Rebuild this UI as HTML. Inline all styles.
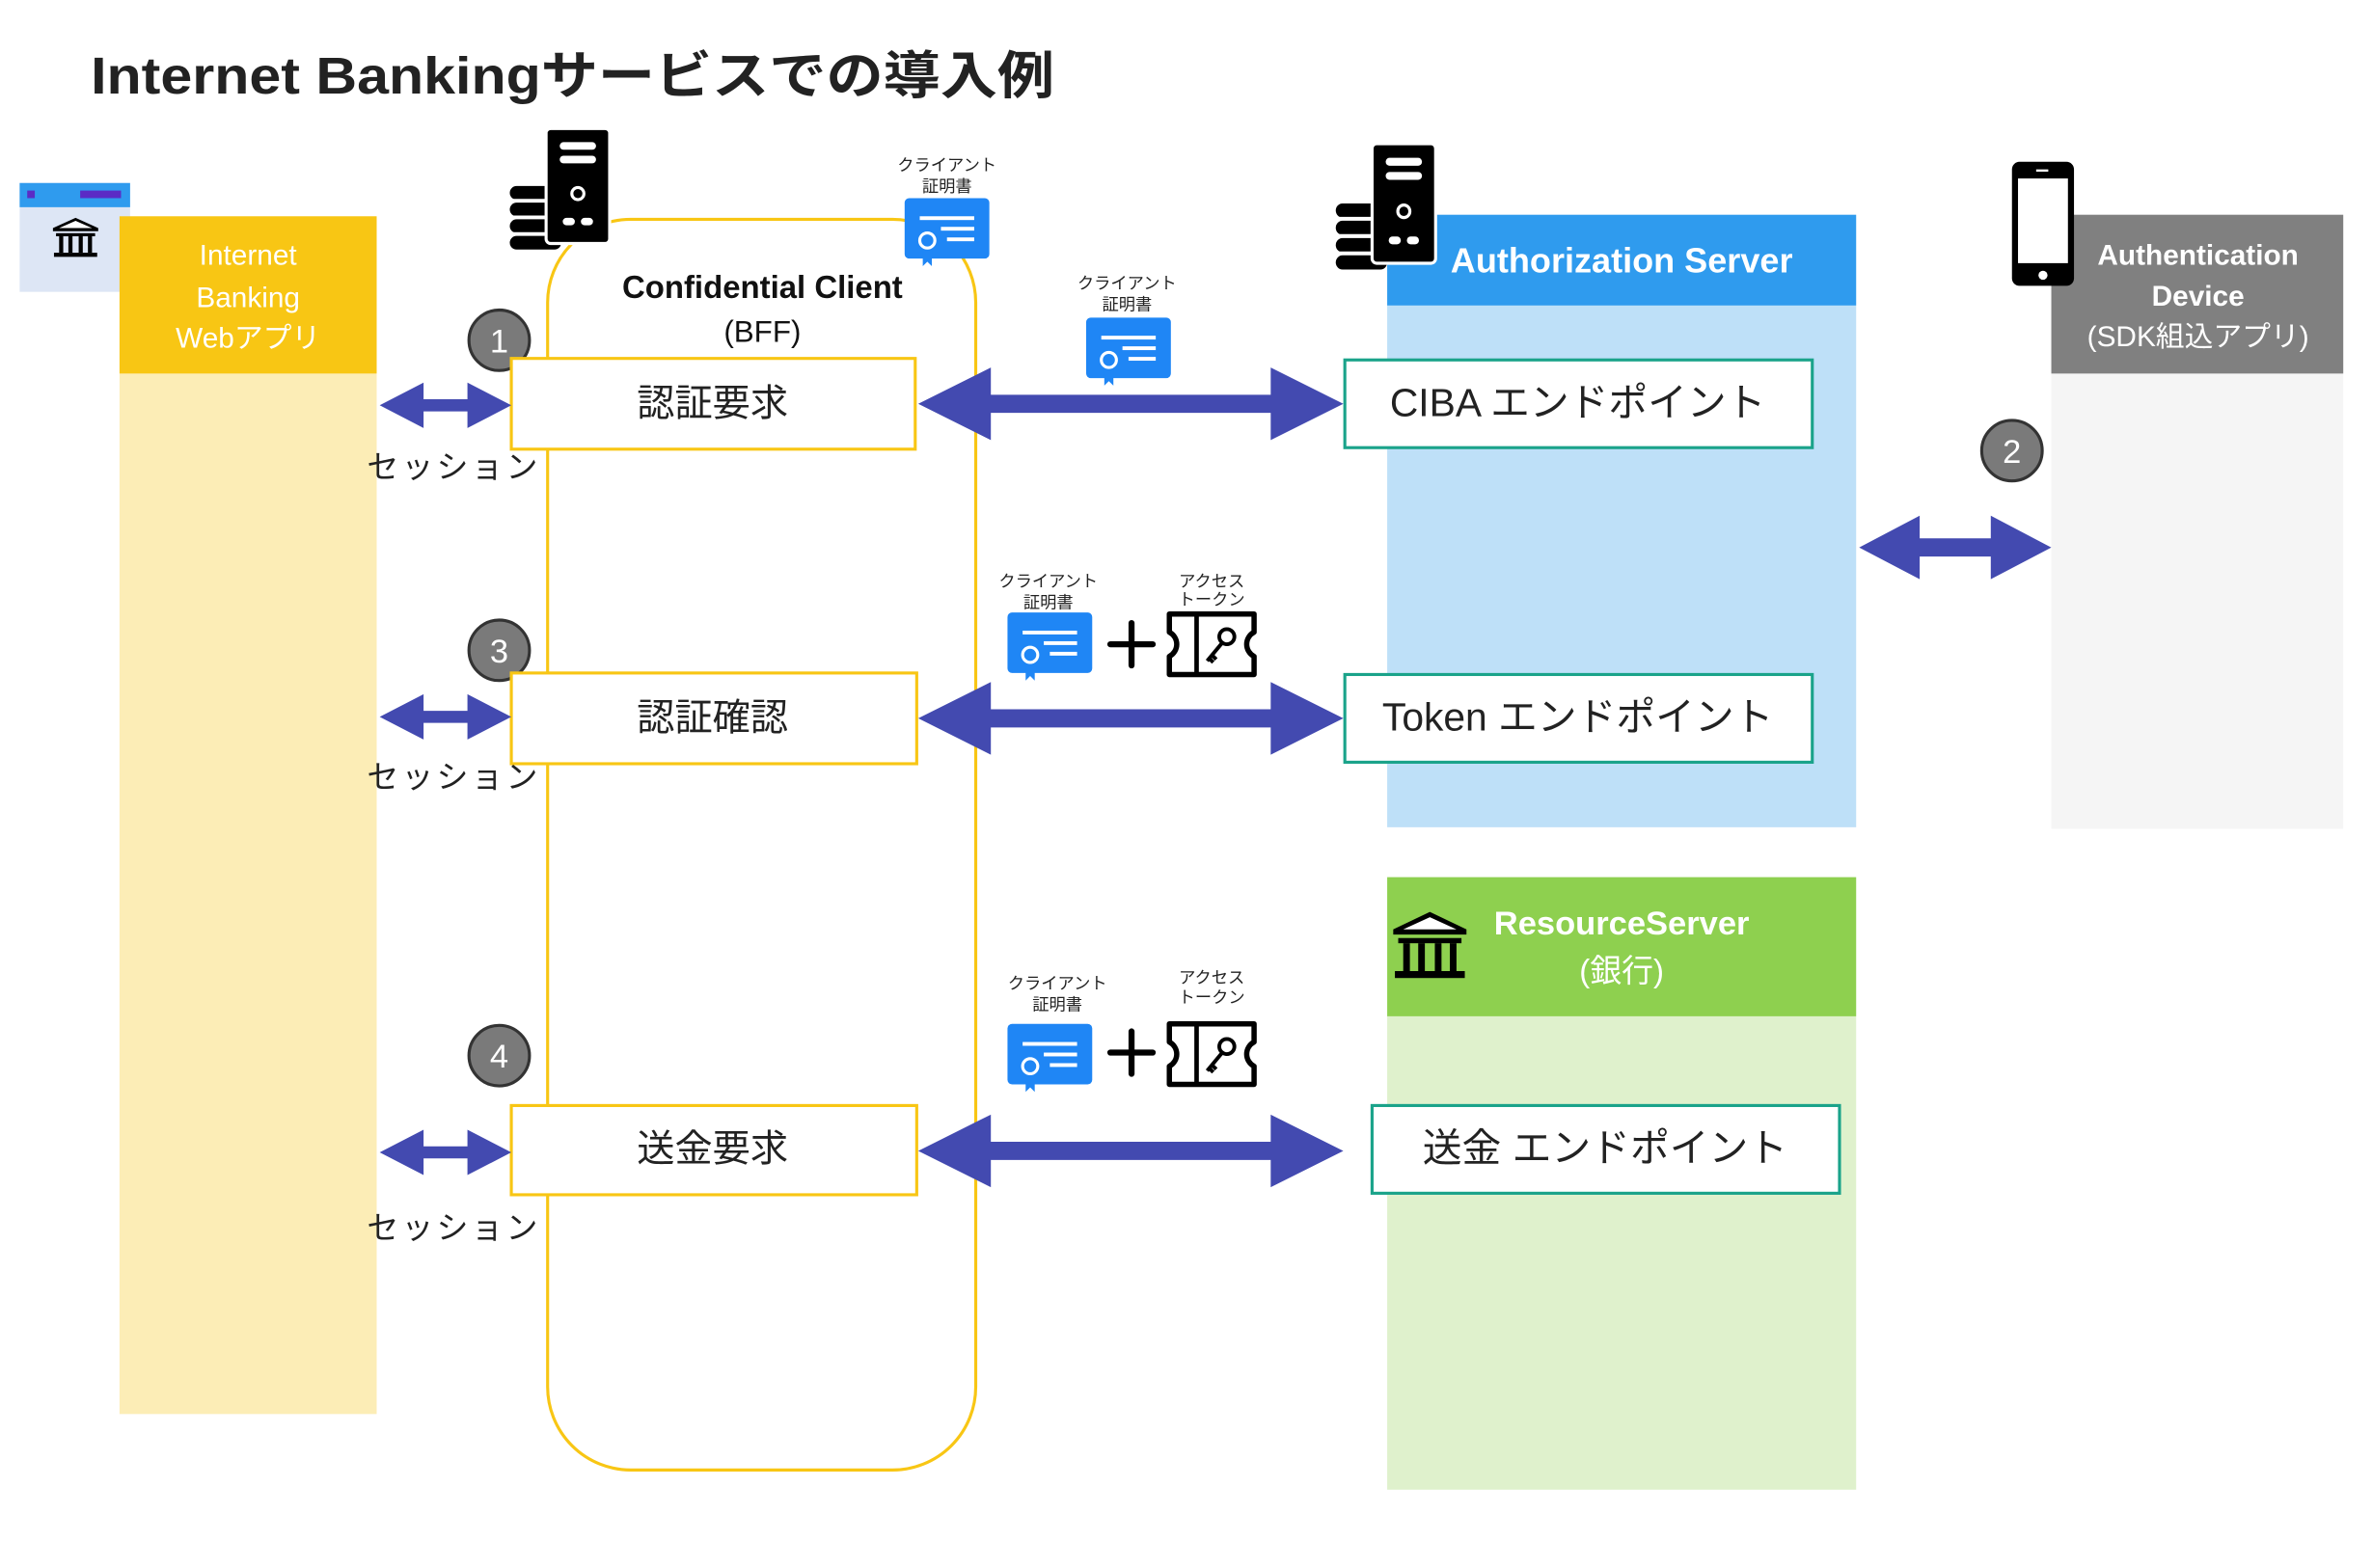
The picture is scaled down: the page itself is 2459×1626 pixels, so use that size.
<!DOCTYPE html>
<html><head><meta charset="utf-8"><style>
html,body{margin:0;padding:0;background:#fff;}
svg{display:block;}
text{font-family:"Liberation Sans","Noto Sans CJK JP",sans-serif;}
</style></head><body>
<svg width="2459" height="1626" viewBox="0 0 1568 1036.8" preserveAspectRatio="none" xmlns="http://www.w3.org/2000/svg">
<defs>
<g id="server">
  <g fill="#000">
    <rect x="0" y="38" width="34" height="9" rx="4.5"/>
    <rect x="0" y="49" width="34" height="9" rx="4.5"/>
    <rect x="0" y="60" width="34" height="9" rx="4.5"/>
    <rect x="0" y="71" width="34" height="9" rx="4.5"/>
  </g>
  <g stroke="#fff" stroke-width="2" fill="none">
    <line x1="2" y1="47.5" x2="30" y2="47.5"/><line x1="2" y1="58.5" x2="30" y2="58.5"/><line x1="2" y1="69.5" x2="30" y2="69.5"/>
  </g>
  <rect x="24" y="0" width="42" height="76" rx="3" fill="#000" stroke="#fff" stroke-width="2"/>
  <rect x="33" y="9" width="24" height="5" rx="2.5" fill="#fff"/>
  <rect x="33" y="18" width="24" height="5" rx="2.5" fill="#fff"/>
  <circle cx="45" cy="43" r="4" fill="none" stroke="#fff" stroke-width="2"/>
  <rect x="35" y="59" width="8" height="5" rx="2.5" fill="#fff"/>
  <rect x="47" y="59" width="8" height="5" rx="2.5" fill="#fff"/>
</g>
<g id="cert">
  <rect x="0" y="0" width="56" height="40" rx="3" fill="#1F86F5"/>
  <rect x="10" y="12" width="36" height="2.5" fill="#fff"/>
  <rect x="24" y="19" width="22" height="2.5" fill="#fff"/>
  <rect x="28" y="26" width="18" height="2.5" fill="#fff"/>
  <path d="M12 30 L12 45 L15 42 L18 45 L18 30 Z" fill="#1F86F5"/>
  <circle cx="15" cy="28" r="5" fill="#1F86F5" stroke="#fff" stroke-width="2"/>
</g>
<g id="token">
  <path d="M2 2 H58 V14 A9 9 0 0 0 58 30 V42 H2 V30 A9 9 0 0 0 2 14 Z" fill="#fff" stroke="#000" stroke-width="3.5" stroke-linejoin="round"/>
  <line x1="20" y1="2" x2="20" y2="42" stroke="#000" stroke-width="3"/>
  <circle cx="40" cy="17" r="5" fill="none" stroke="#000" stroke-width="2.5"/>
  <path d="M37 21 L27 33 M30 29 L33 32 M28 31 L31 34" stroke="#000" stroke-width="2.5" fill="none"/>
</g>
<g id="plus"><rect x="-16" y="-2" width="32" height="4" rx="2" fill="#000"/><rect x="-2" y="-16" width="4" height="32" rx="2" fill="#000"/></g>
<polygon id="bigarrow" points="0,0 48,-24 48,-6 233,-6 233,-24 281,0 233,24 233,6 48,6 48,24" fill="#434AB0"/>
<polygon id="smallarrow" points="0,0 29,-15 29,-4 58,-4 58,-15 87,0 58,15 58,4 29,4 29,15" fill="#434AB0"/>
<g id="bank">
  <polygon points="0,10 22,0 44,10 44,13 0,13" fill="#000"/>
  <polygon points="6,10 22,3 38,10" fill="#fff"/>
  <rect x="3" y="15" width="38" height="3" fill="#000"/>
  <rect x="6" y="18" width="4" height="16" fill="#000"/><rect x="15" y="18" width="4" height="16" fill="#000"/><rect x="25" y="18" width="4" height="16" fill="#000"/><rect x="34" y="18" width="4" height="16" fill="#000"/>
  <rect x="1" y="34" width="42" height="4" fill="#000"/>
</g>
<g id="circ"><circle r="20" fill="#7a7a7a" stroke="#333" stroke-width="2"/></g>
</defs>

<text x="60" y="62" font-size="34" font-weight="bold" fill="#222" textLength="637" lengthAdjust="spacingAndGlyphs">Internet Bankingサービスでの導入例</text>

<!-- Browser icon -->
<rect x="13" y="121" width="73" height="72" fill="#DDE6F5"/>
<rect x="13" y="121" width="73" height="16" fill="#2F9BEE"/>
<rect x="18" y="126" width="5" height="5" fill="#5B2BC5"/>
<rect x="53" y="126" width="27" height="5" fill="#5B2BC5"/>
<g transform="translate(35,144) scale(0.68)"><use href="#bank"/></g>

<!-- Internet Banking Web app -->
<rect x="79" y="247" width="170" height="688" fill="#FCEDB6"/>
<rect x="79" y="143" width="170" height="104" fill="#F8C614"/>
<g fill="#fff" font-size="19" text-anchor="middle">
<text x="164" y="175">Internet</text><text x="164" y="203">Banking</text><text x="164" y="230">Webアプリ</text></g>

<!-- Confidential Client -->
<rect x="362" y="145" width="283" height="827" rx="55" fill="none" stroke="#F8C614" stroke-width="2"/>
<g transform="translate(337,85)"><use href="#server"/></g>
<text x="504" y="197" font-size="21" font-weight="bold" text-anchor="middle" fill="#111">Confidential Client</text>
<text x="504" y="226" font-size="20" text-anchor="middle" fill="#111">(BFF)</text>
<g font-size="11" text-anchor="middle" fill="#222"><text x="626" y="113">クライアント</text><text x="626" y="127">証明書</text></g>
<g transform="translate(598,131)"><use href="#cert"/></g>

<!-- Auth server -->
<rect x="917" y="202" width="310" height="345" fill="#BEE0F8"/>
<rect x="917" y="142" width="310" height="60" fill="#2F9BEE"/>
<text x="1072" y="180" font-size="23" font-weight="bold" fill="#fff" text-anchor="middle">Authorization Server</text>
<g transform="translate(883,95) scale(1,1.04)"><use href="#server"/></g>

<!-- Authentication device -->
<rect x="1356" y="247" width="193" height="301" fill="#F5F5F5"/>
<rect x="1356" y="142" width="193" height="105" fill="#808080"/>
<g fill="#fff" font-size="19" text-anchor="middle">
<text x="1453" y="175" font-weight="bold">Authentication</text>
<text x="1453" y="202" font-weight="bold">Device</text>
<text x="1453" y="229">(SDK組込アプリ)</text></g>
<rect x="1330" y="107" width="41" height="82" rx="5" fill="#000"/>
<rect x="1334" y="118" width="33" height="56" fill="#fff"/>
<circle cx="1350.5" cy="182" r="3" fill="#fff"/>
<rect x="1346" y="112" width="8" height="1.5" fill="#fff"/>

<!-- Resource server -->
<rect x="917" y="672" width="310" height="313" fill="#DFF1CC"/>
<rect x="917" y="580" width="310" height="92" fill="#8ED04F"/>
<text x="1072" y="618" font-size="22" font-weight="bold" fill="#fff" text-anchor="middle">ResourceServer</text>
<text x="1072" y="649" font-size="21" fill="#fff" text-anchor="middle">(銀行)</text>
<g transform="translate(921,603) scale(1.1,1.15)"><use href="#bank"/></g>

<!-- Row 1 -->
<use href="#circ" transform="translate(330,225)"/>
<text x="330" y="233" font-size="22" fill="#fff" text-anchor="middle">1</text>
<rect x="338" y="237" width="267" height="60" fill="#fff" stroke="#F8C614" stroke-width="2"/>
<text x="471" y="275" font-size="25" text-anchor="middle" fill="#222">認証要求</text>
<use href="#smallarrow" transform="translate(251,268)"/>
<text x="300" y="316" font-size="21" text-anchor="middle" fill="#222" letter-spacing="2">セッション</text>
<use href="#bigarrow" transform="translate(607,267)"/>
<g font-size="11" text-anchor="middle" fill="#222"><text x="745" y="191">クライアント</text><text x="745" y="205">証明書</text></g>
<g transform="translate(718,210)"><use href="#cert"/></g>
<rect x="889" y="238" width="309" height="58" fill="#fff" stroke="#1AA38A" stroke-width="2"/>
<text x="1043" y="275" font-size="26" text-anchor="middle" fill="#222">CIBA エンドポイント</text>

<!-- Circle 2 and arrow -->
<use href="#circ" transform="translate(1330,298)"/>
<text x="1330" y="306" font-size="22" fill="#fff" text-anchor="middle">2</text>
<polygon points="1229,362 1269,341 1269,356 1316,356 1316,341 1356,362 1316,383 1316,368 1269,368 1269,383" fill="#434AB0"/>

<!-- Row 3 -->
<use href="#circ" transform="translate(330,430)"/>
<text x="330" y="438" font-size="22" fill="#fff" text-anchor="middle">3</text>
<rect x="338" y="445" width="268" height="60" fill="#fff" stroke="#F8C614" stroke-width="2"/>
<text x="471" y="483" font-size="25" text-anchor="middle" fill="#222">認証確認</text>
<use href="#smallarrow" transform="translate(251,474)"/>
<text x="300" y="521" font-size="21" text-anchor="middle" fill="#222" letter-spacing="2">セッション</text>
<use href="#bigarrow" transform="translate(607,475)"/>
<g font-size="11" text-anchor="middle" fill="#222"><text x="693" y="388">クライアント</text><text x="693" y="402">証明書</text><text x="801" y="388">アクセス</text><text x="801" y="400">トークン</text></g>
<g transform="translate(666,405)"><use href="#cert"/></g>
<use href="#plus" transform="translate(748,426)"/>
<g transform="translate(771,404)"><use href="#token"/></g>
<rect x="889" y="446" width="309" height="58" fill="#fff" stroke="#1AA38A" stroke-width="2"/>
<text x="1043" y="483" font-size="26" text-anchor="middle" fill="#222">Token エンドポイント</text>

<!-- Row 4 -->
<use href="#circ" transform="translate(330,698)"/>
<text x="330" y="706" font-size="22" fill="#fff" text-anchor="middle">4</text>
<rect x="338" y="731" width="268" height="59" fill="#fff" stroke="#F8C614" stroke-width="2"/>
<text x="471" y="768" font-size="25" text-anchor="middle" fill="#222">送金要求</text>
<use href="#smallarrow" transform="translate(251,762)"/>
<text x="300" y="819" font-size="21" text-anchor="middle" fill="#222" letter-spacing="2">セッション</text>
<use href="#bigarrow" transform="translate(607,761)"/>
<g font-size="11" text-anchor="middle" fill="#222"><text x="699" y="654">クライアント</text><text x="699" y="668">証明書</text><text x="801" y="650">アクセス</text><text x="801" y="663">トークン</text></g>
<g transform="translate(666,677)"><use href="#cert"/></g>
<use href="#plus" transform="translate(748,696)"/>
<g transform="translate(771,675)"><use href="#token"/></g>
<rect x="907" y="731" width="309" height="58" fill="#fff" stroke="#1AA38A" stroke-width="2"/>
<text x="1061" y="768" font-size="26" text-anchor="middle" fill="#222">送金 エンドポイント</text>
</svg>
</body></html>
